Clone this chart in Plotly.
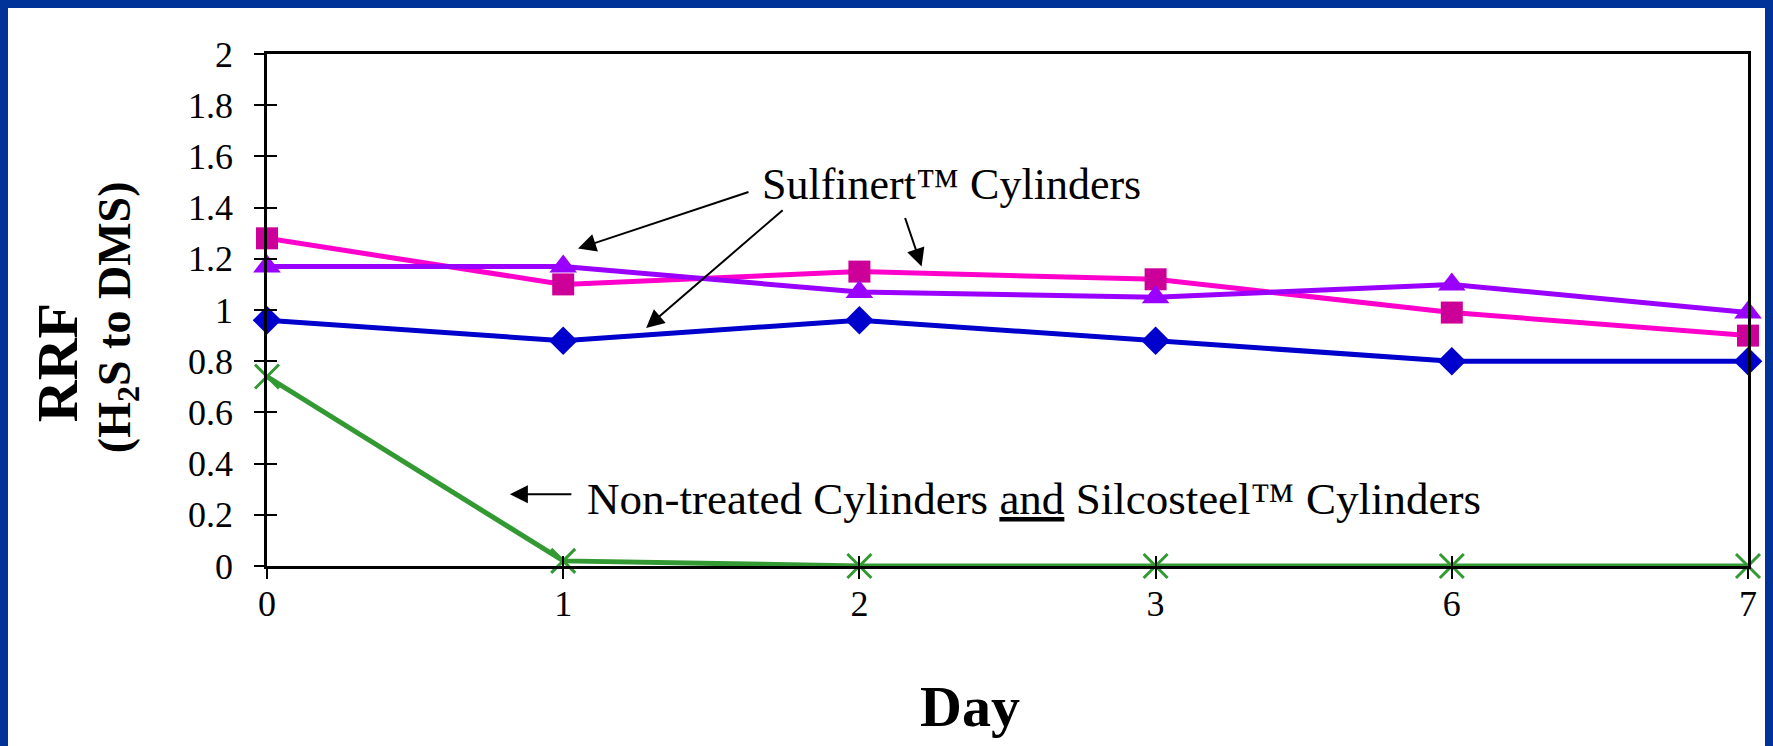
import plotly.graph_objects as go

days = ['0', '1', '2', '3', '6', '7']

sulf_blue = [0.96, 0.88, 0.96, 0.88, 0.80, 0.80]
sulf_pink = [1.28, 1.10, 1.15, 1.12, 0.99, 0.90]
sulf_purple = [1.17, 1.17, 1.07, 1.05, 1.10, 0.99]
non_treated = [0.74, 0.02, 0.0, 0.0, 0.0, 0.0]

FONT = 'Liberation Serif, Times New Roman, serif'

fig = go.Figure()

fig.add_trace(go.Scatter(x=days, y=sulf_blue, mode='lines+markers', cliponaxis=False,
                         line=dict(color='#0000CC', width=5),
                         marker=dict(symbol='diamond', size=22, color='#0000CC')))
fig.add_trace(go.Scatter(x=days, y=sulf_pink, mode='lines+markers', cliponaxis=False,
                         line=dict(color='#FF00CC', width=5),
                         marker=dict(symbol='square', size=22, color='#CC0099')))
fig.add_trace(go.Scatter(x=days, y=sulf_purple, mode='lines+markers', cliponaxis=False,
                         line=dict(color='#9900FF', width=5),
                         marker=dict(symbol='triangle-up', size=24, color='#9900FF')))
# green one sits on the overlay axes so those get drawn (inside half of the ticks)
fig.add_trace(go.Scatter(x=days, y=non_treated, mode='lines+markers', xaxis='x2', yaxis='y2',
                         cliponaxis=False,
                         line=dict(color='#339933', width=5),
                         marker=dict(symbol='x-thin-open', size=24,
                                     line=dict(color='#339933', width=3))))

tick_font = dict(family=FONT, size=36, color='black')
fig.update_layout(
    xaxis=dict(type='category', range=[0, 5], showline=True, linecolor='black', linewidth=2.5,
               mirror=True, ticks='outside', ticklen=10, tickwidth=2, tickcolor='black',
               showgrid=False, zeroline=False, ticklabelstandoff=-6, tickfont=tick_font),
    yaxis=dict(range=[0, 2], dtick=0.2, showline=True, linecolor='black', linewidth=2.5,
               mirror=True, ticks='outside', ticklen=10, tickwidth=2, tickcolor='black',
               showgrid=False, zeroline=False, ticklabelstandoff=14, tickfont=tick_font),
    xaxis2=dict(type='category', overlaying='x', anchor='y2', side='bottom', range=[0, 5],
                ticks='inside', ticklen=10, tickwidth=2, tickcolor='black',
                showticklabels=False, showgrid=False, zeroline=False, showline=False),
    yaxis2=dict(overlaying='y', anchor='x2', side='left', range=[0, 2], dtick=0.2,
                ticks='inside', ticklen=10, tickwidth=2, tickcolor='black',
                showticklabels=False, showgrid=False, zeroline=False, showline=False),
)

ann = dict(showarrow=True, arrowhead=2, arrowsize=1.8, arrowwidth=2, arrowcolor='black',
           xref='x', yref='y', axref='pixel', ayref='pixel', text='')
fig.add_annotation(x=1.05, y=1.24, ax=172, ay=-57, **ann)
fig.add_annotation(x=1.28, y=0.93, ax=138, ay=-119, **ann)
fig.add_annotation(x=2.21, y=1.17, ax=-17, ay=-50, **ann)
fig.add_annotation(x=0.82, y=0.28, ax=63, ay=0, **ann)

fig.add_annotation(x=2.31, y=1.49, xref='x', yref='y', showarrow=False,
                   text='Sulfinert™ Cylinders',
                   font=dict(family=FONT, size=44, color='black'))
fig.add_annotation(x=2.59, y=0.26, xref='x', yref='y', showarrow=False,
                   text='Non-treated Cylinders <u>and</u> Silcosteel™ Cylinders',
                   font=dict(family=FONT, size=45, color='black'))

# axis titles
fig.add_annotation(x=-0.1418, y=0.398, xref='paper', yref='paper', showarrow=False,
                   xanchor='center', yanchor='middle',
                   text='<b>RRF</b>', textangle=-90,
                   font=dict(family=FONT, size=58, color='black'))
fig.add_annotation(x=-0.1006, y=0.486, xref='paper', yref='paper', showarrow=False,
                   xanchor='center', yanchor='middle',
                   text='<b>(H<sub>2</sub>S to DMS)</b>', textangle=-90,
                   font=dict(family=FONT, size=46, color='black'))
fig.add_annotation(x=0.4747, y=-0.275, xref='paper', yref='paper', showarrow=False,
                   xanchor='center', yanchor='middle',
                   text='<b>Day</b>',
                   font=dict(family=FONT, size=58, color='black'))

# blue slide frame: blue paper, white panel on top of it
blue = '#003399'
fig.add_shape(type='rect', xref='paper', yref='paper',
              x0=(8 - 267) / 1481, x1=(1765 - 267) / 1481,
              y0=-0.4, y1=(566 - 8) / 512,
              fillcolor='white', line_width=0, layer='below')

fig.update_layout(
    width=1773, height=746,
    margin=dict(l=267, r=25, t=54, b=180),
    paper_bgcolor=blue, plot_bgcolor='white',
    showlegend=False,
)

fig.write_html('out.html', config={'displayModeBar': False},
               post_script="document.body.style.margin='0';")
